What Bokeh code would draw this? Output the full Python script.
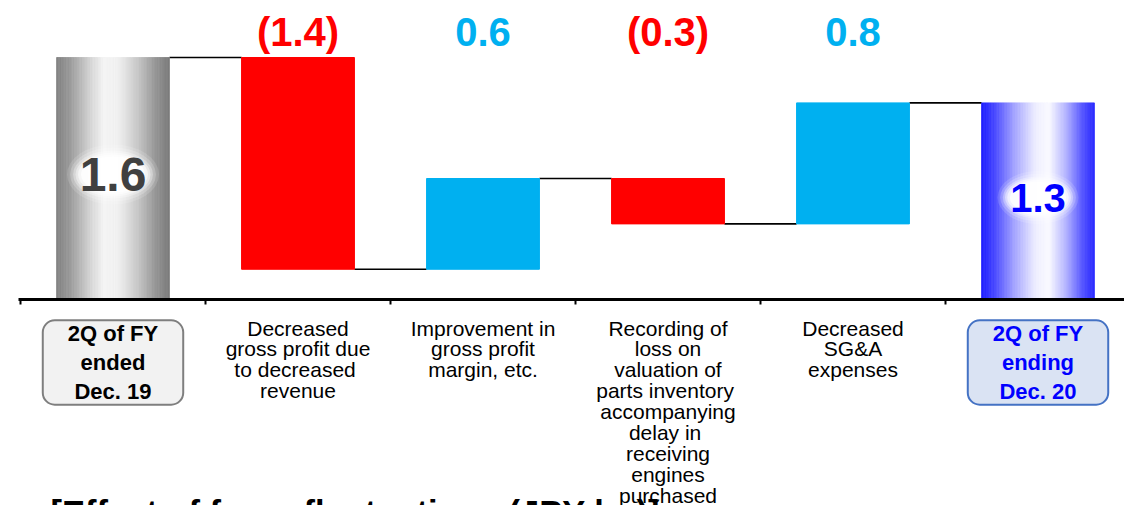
import numpy as np
from bokeh.plotting import figure
from bokeh.models import Range1d
from bokeh.core.properties import value
from bokeh.embed import file_html
from bokeh.resources import INLINE

# ---------------- data ----------------
categories = ["2Q of FY\nended\nDec. 19",
              "Decreased\ngross profit due\nto  decreased\nrevenue",
              "Improvement in\ngross profit\nmargin, etc.",
              "Recording of\nloss on\nvaluation of\nparts  inventory\naccompanying\ndelay  in\nreceiving\nengines\npurchased",
              "Decreased\nSG&A\nexpenses",
              "2Q of FY\nending\nDec. 20"]
values = [1.6, -1.4, 0.6, -0.3, 0.8, 1.3]
kinds = ["total", "delta", "delta", "delta", "delta", "total"]
footer_title = "[Effect of forex fluctuations (JPY bn)]"

# ---------------- layout ----------------
W, H = 1124, 505
PX_X = 185.0      # px per category
PX_Y = 151.25     # px per unit
X0PX = 20         # px of left edge of first category
Y0PX = 299        # px of baseline

def xd(px):
    return (px - X0PX) / PX_X - 0.5

def yd(py):
    return (Y0PX - py) / PX_Y

FONT = value("Liberation Sans")
RED = "#ff0000"
BLUE = "#00b0f0"
BW = 0.61

p = figure(width=W, height=H,
           x_range=Range1d(xd(0), xd(W)), y_range=Range1d(yd(H), yd(0)),
           output_backend="svg", toolbar_location=None, min_border=0)
p.axis.visible = False
p.grid.visible = False
p.outline_line_color = None
p.background_fill_color = "white"
p.border_fill_color = "white"

# waterfall geometry
xs = np.arange(len(values), dtype=float)
bottoms, tops, levels_after = [], [], []
run = 0.0
for v, k in zip(values, kinds):
    if k == "total":
        bottoms.append(0.0); tops.append(v); run = v
    else:
        nr = run + v
        bottoms.append(min(run, nr)); tops.append(max(run, nr)); run = nr
    levels_after.append(run)

# connectors
cx0 = [xs[i] + BW / 2 for i in range(len(xs) - 1)]
cx1 = [xs[i + 1] - BW / 2 for i in range(len(xs) - 1)]
cy = [levels_after[i] for i in range(len(xs) - 1)]
p.segment(x0=cx0, y0=cy, x1=cx1, y1=cy, line_color="black", line_width=1.6)

# gradient helpers
def hex2rgb(h):
    h = h.lstrip("#")
    return np.array([int(h[i:i + 2], 16) for i in (0, 2, 4)], dtype=float)

def grad_colors(stops, n):
    pos = np.array([s[0] for s in stops])
    cols = np.array([hex2rgb(s[1]) for s in stops])
    t = (np.arange(n) + 0.5) / n
    out = []
    for ti in t:
        rgb = [np.interp(ti, pos, cols[:, c]) for c in range(3)]
        out.append("#%02x%02x%02x" % tuple(int(round(c)) for c in rgb))
    return out

gray_stops = [(0.0, "#828282"), (0.12, "#9a9a9a"), (0.3, "#d4d4d4"), (0.42, "#f4f4f4"),
              (0.55, "#f0f0f0"), (0.72, "#c8c8c8"), (0.88, "#969696"), (1.0, "#7a7a7a")]
blue_stops = [(0.0, "#1c1cff"), (0.12, "#4a4aff"), (0.3, "#a8a8ff"), (0.48, "#eeeeff"),
              (0.6, "#fafaff"), (0.75, "#b4b4ff"), (0.9, "#5454ff"), (1.0, "#2a2aff")]

N = 70
for i, k in enumerate(kinds):
    if k == "total":
        stops = gray_stops if i == 0 else blue_stops
        cols = grad_colors(stops, N)
        left = xs[i] - BW / 2 + np.arange(N) * BW / N
        right = left + BW / N
        p.quad(left=left, right=right, bottom=[bottoms[i]] * N, top=[tops[i]] * N,
               fill_color=cols, line_color=cols, line_width=0.8)
    else:
        col = RED if values[i] < 0 else BLUE
        p.quad(left=[xs[i] - BW / 2], right=[xs[i] + BW / 2], bottom=[bottoms[i]],
               top=[tops[i]], fill_color=col, line_color=col)

# baseline and ticks
p.segment(x0=[xd(18)], x1=[xd(W)], y0=[0], y1=[0], line_color="black", line_width=3)
tx = [i - 0.5 for i in range(len(values))]
p.segment(x0=tx, x1=tx, y0=[0] * len(tx), y1=[yd(Y0PX + 5)] * len(tx),
          line_color="black", line_width=2)

# delta labels on top
dx, dt, dc = [], [], []
for i, (v, k) in enumerate(zip(values, kinds)):
    if k == "delta":
        dx.append(xs[i])
        dt.append("(%.1f)" % abs(v) if v < 0 else "%.1f" % v)
        dc.append(RED if v < 0 else BLUE)
p.text(x=dx, y=[yd(31)] * len(dx), text=dt, text_color=dc, text_font=FONT,
       text_font_size="40px", text_font_style="bold", text_align="center",
       text_baseline="middle")

# total labels with glow
tot_idx = [i for i, k in enumerate(kinds) if k == "total"]
tot_y = [yd(174), yd(197)]
tot_col = ["#404040", "#0000ff"]
tot_size = ["48px", "40px"]
tot_scale = [1.0, 0.88]
for j, i in enumerate(tot_idx):
    s = tot_scale[j]
    for (w, h, a) in [(92, 60, 0.14), (86, 54, 0.2), (80, 48, 0.3), (75, 44, 0.4),
                      (70, 40, 0.55), (64, 36, 0.75)]:
        p.ellipse(x=[xs[i]], y=[tot_y[j]], width=w * s, height=h * s, width_units="screen",
                  height_units="screen", fill_color="white", fill_alpha=a, line_color=None)
    p.text(x=[xs[i]], y=[tot_y[j]], text=["%.1f" % values[i]], text_color=tot_col[j],
           text_font=FONT, text_font_size=tot_size[j], text_font_style="bold",
           text_align="center", text_baseline="middle")

# category labels
for i, k in enumerate(kinds):
    if k == "total":
        if i == 0:
            fc, bc, tc = "#f2f2f2", "#7f7f7f", "black"
        else:
            fc, bc, tc = "#dae3f3", "#4472c4", "#0000ff"
        p.text(x=[xs[i]], y=[yd(362)], text=[categories[i]], text_color=tc, text_font=FONT,
               text_font_size="22px", text_font_style="bold", text_align="center",
               text_baseline="middle", text_line_height=1.147,
               background_fill_color=fc, border_line_color=bc, border_line_width=2,
               padding=(25, 1), border_radius=12)
    else:
        p.text(x=[xs[i]], y=[yd(316)], text=[categories[i]], text_color="black", text_font=FONT,
               text_font_size="21px", text_align="center", text_baseline="top",
               text_line_height=0.91)

# footer title (cut off by the window, as in the reference)
p.text(x=[xd(50)], y=[yd(493)], text=[footer_title], text_color="black", text_font=FONT,
       text_font_size="34.5px", text_font_style="bold", text_align="left", text_baseline="top")

open("out.html", "w").write(file_html(p, INLINE))
